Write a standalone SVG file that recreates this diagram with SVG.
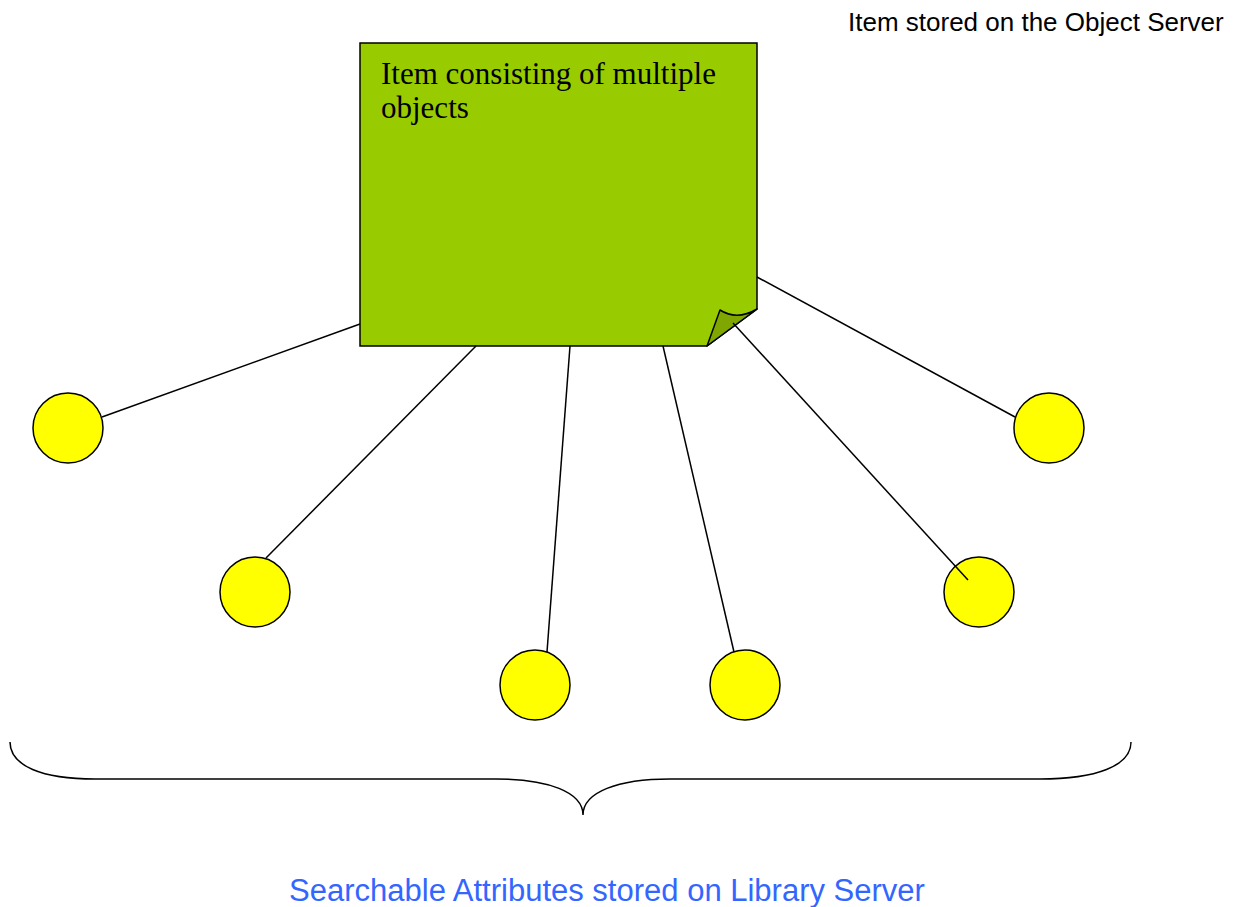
<svg xmlns="http://www.w3.org/2000/svg" width="1234" height="907" viewBox="0 0 1234 907">
  <style>
    .attr { fill: #FFFF00; stroke: #000; stroke-width: 1.5; }
    .link { stroke: #000; stroke-width: 1.5; fill: none; }
    .sans { font-family: "Liberation Sans", Arial, sans-serif; }
    .serif { font-family: "Liberation Serif", "Times New Roman", serif; }
  </style>
  <rect width="1234" height="907" fill="#FFFFFF"/>

  <!-- caption for the item -->
  <text class="sans" x="848" y="31" font-size="26" fill="#000">Item stored on the Object Server</text>

  <!-- item note with curled corner -->
  <g id="item">
    <path d="M360,43 H757 V309 L707,346 H360 Z" fill="#99CC00" stroke="#000" stroke-width="1.5"/>
    <path d="M707,346 L720,310 Q737,321 757,309 Z" fill="#80A600" stroke="#000" stroke-width="1.5" stroke-linejoin="round"/>
    <text class="serif" x="381" y="84" font-size="31" fill="#000">Item consisting of multiple</text>
    <text class="serif" x="381" y="118" font-size="31" fill="#000">objects</text>
  </g>

  <!-- attribute nodes -->
  <g id="attr1"><circle class="attr" cx="68" cy="428" r="35"/></g>
  <g id="attr2"><circle class="attr" cx="255" cy="592" r="35"/></g>
  <g id="attr3"><circle class="attr" cx="535" cy="685" r="35"/></g>
  <g id="attr4"><circle class="attr" cx="745" cy="685" r="35"/></g>
  <g id="attr5"><circle class="attr" cx="979" cy="592" r="35"/></g>
  <g id="attr6"><circle class="attr" cx="1049" cy="428" r="35"/></g>

  <!-- connectors from the item to its attributes -->
  <g id="connectors">
    <line class="link" x1="360" y1="324" x2="102" y2="417"/>
    <line class="link" x1="476" y1="346" x2="266" y2="558"/>
    <line class="link" x1="570" y1="346" x2="547" y2="652"/>
    <line class="link" x1="663" y1="346" x2="734" y2="652"/>
    <line class="link" x1="733" y1="323" x2="968" y2="580"/>
    <line class="link" x1="757" y1="277" x2="1015" y2="417"/>
  </g>

  <!-- brace grouping the attributes -->
  <g id="brace">
    <path class="link" d="M10,742 C10,766 42,779 95,779 L496,779 C548,779 583,792 583,815 C583,792 618,779 670,779 L1040,779 C1096,779 1131,766 1131,742"/>
  </g>

  <text class="sans" x="607" y="901" font-size="31" fill="#3366FF" text-anchor="middle">Searchable Attributes stored on Library Server</text>
</svg>
